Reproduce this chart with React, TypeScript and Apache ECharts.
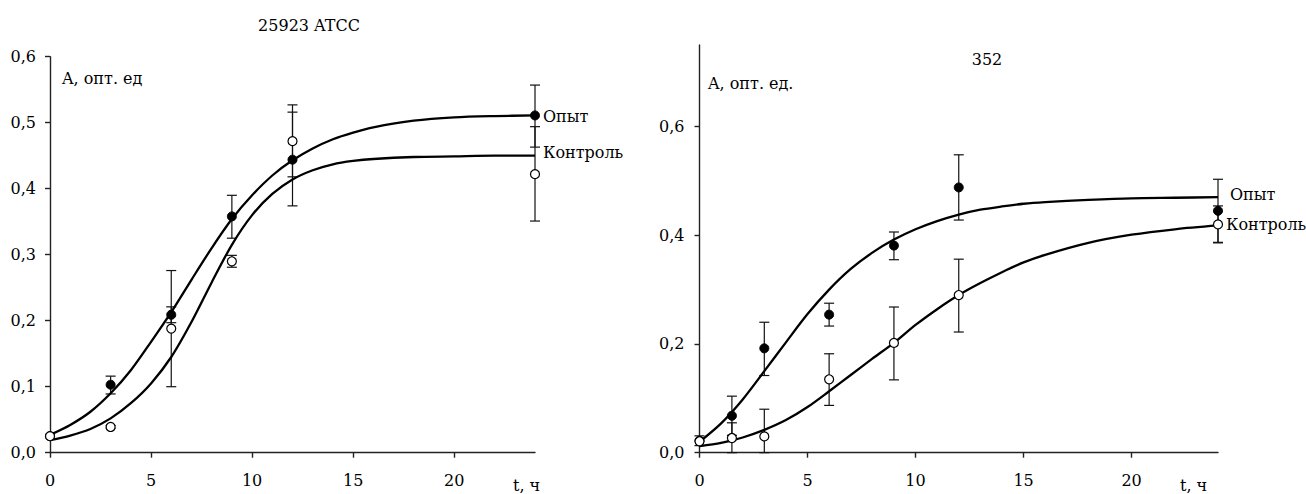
import React, { useEffect, useRef } from 'react';
import * as echarts from 'echarts';

const FONT = 'DejaVu Serif';
const FS = 16;

// ---- Titles / labels
const leftTitle = '25923 ATCC';
const rightTitle = '352';
const leftYName = 'A, опт. ед';
const rightYName = 'A, опт. ед.';
const xName = 't, ч';
const seriesNames = ['Опыт', 'Контроль'];

// ---- Tick values
const xTicks = [0, 5, 10, 15, 20];
const leftYTicks = [0, 0.1, 0.2, 0.3, 0.4, 0.5, 0.6];
const rightYTicks = [0, 0.2, 0.4, 0.6];

// ---- Left chart (25923 ATCC) measured points
const leftX = [0, 3, 6, 9, 12, 24];
const leftOpytY = [0.025, 0.103, 0.209, 0.358, 0.444, 0.511];
const leftOpytLow = [0.025, 0.089, 0.197, 0.325, 0.374, 0.463];
const leftOpytHigh = [0.025, 0.116, 0.221, 0.39, 0.516, 0.557];
const leftKontrY = [0.025, 0.039, 0.188, 0.29, 0.472, 0.422];
const leftKontrLow = [0.025, 0.037, 0.1, 0.281, 0.418, 0.351];
const leftKontrHigh = [0.025, 0.041, 0.276, 0.299, 0.527, 0.494];

// ---- Left chart fitted curves
const leftCurveX = [0, 1, 2, 3, 4, 5, 6, 7, 8, 9, 10, 11, 12, 13, 14, 15, 16, 18, 20, 22, 24];
const leftOpytCurve = [0.027, 0.042, 0.062, 0.09, 0.125, 0.168, 0.213, 0.262, 0.31, 0.354, 0.39, 0.42, 0.443, 0.461, 0.475, 0.485, 0.493, 0.503, 0.508, 0.51, 0.511];
const leftKontrCurve = [0.019, 0.026, 0.036, 0.052, 0.075, 0.105, 0.145, 0.198, 0.258, 0.315, 0.36, 0.392, 0.414, 0.428, 0.437, 0.442, 0.445, 0.448, 0.449, 0.45, 0.45];

// ---- Right chart (352) measured points
const rightX = [0, 1.5, 3, 6, 9, 12, 24];
const rightOpytY = [0.022, 0.068, 0.192, 0.254, 0.381, 0.488, 0.445];
const rightOpytLow = [0.013, 0.032, 0.142, 0.233, 0.355, 0.428, 0.387];
const rightOpytHigh = [0.031, 0.104, 0.24, 0.275, 0.406, 0.548, 0.503];
const rightKontrY = [0.021, 0.027, 0.03, 0.135, 0.202, 0.29, 0.42];
const rightKontrLow = [0.021, 0, 0, 0.087, 0.134, 0.222, 0.386];
const rightKontrHigh = [0.021, 0.055, 0.08, 0.182, 0.268, 0.356, 0.454];

// ---- Right chart fitted curves
const rightCurveX = [0, 1, 2, 3, 4, 5, 6, 7, 8, 9, 10, 11, 12, 13, 14, 15, 16, 18, 20, 22, 24];
const rightOpytCurve = [0.02, 0.054, 0.098, 0.15, 0.203, 0.255, 0.3, 0.338, 0.368, 0.392, 0.411, 0.426, 0.438, 0.447, 0.453, 0.458, 0.461, 0.465, 0.468, 0.469, 0.47];
const rightKontrCurve = [0.012, 0.018, 0.028, 0.042, 0.06, 0.084, 0.113, 0.143, 0.173, 0.202, 0.235, 0.264, 0.29, 0.312, 0.332, 0.35, 0.364, 0.386, 0.401, 0.411, 0.418];

const comma = (v: number) => v.toFixed(1).replace('.', ',');

const errRender = (params: any, api: any) => {
  const x = api.value(0);
  const lo = api.value(1);
  const hi = api.value(2);
  if (hi - lo < 1e-6) return null;
  const top = api.coord([x, hi]);
  const bot = api.coord([x, lo]);
  const w = 5;
  const style = { stroke: '#111', lineWidth: 1.2 };
  return {
    type: 'group',
    children: [
      { type: 'line', shape: { x1: top[0], y1: top[1], x2: bot[0], y2: bot[1] }, style },
      { type: 'line', shape: { x1: top[0] - w, y1: top[1], x2: top[0] + w, y2: top[1] }, style },
      { type: 'line', shape: { x1: bot[0] - w, y1: bot[1], x2: bot[0] + w, y2: bot[1] }, style },
    ],
  };
};

const axisLineStyle = { color: '#222', width: 1.4 };
const labelStyle = { color: '#000', fontSize: FS, fontFamily: FONT };

function makeXAxis(gridIndex: number) {
  return {
    type: 'value',
    gridIndex,
    min: 0,
    max: 24,
    axisLine: { show: true, onZero: false, lineStyle: axisLineStyle },
    axisTick: { show: true, length: 5, lineStyle: axisLineStyle, customValues: xTicks },
    axisLabel: { ...labelStyle, margin: 20, customValues: xTicks, formatter: (v: number) => String(v) },
    splitLine: { show: false },
  };
}

function makeYAxis(gridIndex: number, max: number, ticks: number[], margin: number) {
  return {
    type: 'value',
    gridIndex,
    min: 0,
    max,
    axisLine: { show: true, onZero: false, lineStyle: axisLineStyle },
    axisTick: { show: true, length: 5, lineStyle: axisLineStyle, customValues: ticks },
    axisLabel: { ...labelStyle, margin, customValues: ticks, formatter: (v: number) => comma(v) },
    splitLine: { show: false },
  };
}

function curveSeries(idx: number, xs: number[], ys: number[], name: string, offset: number[]) {
  return {
    type: 'line',
    name,
    xAxisIndex: idx,
    yAxisIndex: idx,
    data: xs.map((x, i) => [x, ys[i]]),
    smooth: 0.3,
    showSymbol: false,
    symbol: 'none',
    lineStyle: { color: '#000', width: 2.3 },
    z: 3,
    silent: true,
    endLabel: {
      show: true,
      formatter: name,
      distance: 8,
      offset,
      ...labelStyle,
    },
  };
}

function pointSeries(idx: number, xs: number[], ys: number[], filled: boolean, z: number) {
  return {
    type: 'scatter',
    xAxisIndex: idx,
    yAxisIndex: idx,
    data: xs.map((x, i) => [x, ys[i]]),
    symbol: 'circle',
    symbolSize: 9,
    itemStyle: filled
      ? { color: '#000', borderColor: '#000', borderWidth: 1, opacity: 1 }
      : { color: '#fff', borderColor: '#000', borderWidth: 1.2, opacity: 1 },
    z,
    silent: true,
  };
}

function errSeries(idx: number, xs: number[], lo: number[], hi: number[]) {
  return {
    type: 'custom',
    xAxisIndex: idx,
    yAxisIndex: idx,
    renderItem: errRender,
    data: xs.map((x, i) => [x, lo[i], hi[i]]),
    encode: { x: 0, y: [1, 2] },
    z: 2,
    silent: true,
  };
}

const textEl = (text: string, x: number, y: number, align: string) => ({
  type: 'text',
  x,
  y,
  style: {
    text,
    fill: '#000',
    fontSize: FS,
    fontFamily: FONT,
    textAlign: align,
    textVerticalAlign: 'middle',
  },
});

export default function App() {
  const ref = useRef<HTMLDivElement>(null);
  useEffect(() => {
    if (!ref.current) return;
    const chart = echarts.init(ref.current, null, { renderer: 'svg' });
    chart.setOption({
      animation: false,
      backgroundColor: '#fff',
      textStyle: { fontFamily: FONT },
      grid: [
        { left: 50, top: 56.7, width: 485, height: 396 },
        { left: 699.5, top: 45, width: 518.5, height: 407.7 },
      ],
      xAxis: [makeXAxis(0), makeXAxis(1)],
      yAxis: [makeYAxis(0, 0.6, leftYTicks, 14), makeYAxis(1, 0.75, rightYTicks, 15)],
      graphic: [
        textEl(leftTitle, 309, 25, 'center'),
        textEl(rightTitle, 987, 59, 'center'),
        textEl(leftYName, 62, 78, 'left'),
        textEl(rightYName, 708, 83, 'left'),
        textEl(xName, 513, 485, 'left'),
        textEl(xName, 1180, 485, 'left'),
      ],
      series: [
        errSeries(0, leftX, leftOpytLow, leftOpytHigh),
        errSeries(0, leftX, leftKontrLow, leftKontrHigh),
        curveSeries(0, leftCurveX, leftOpytCurve, seriesNames[0], [0, 1]),
        curveSeries(0, leftCurveX, leftKontrCurve, seriesNames[1], [0, -3]),
        pointSeries(0, leftX, leftOpytY, true, 5),
        pointSeries(0, leftX, leftKontrY, false, 6),

        errSeries(1, rightX, rightOpytLow, rightOpytHigh),
        errSeries(1, rightX, rightKontrLow, rightKontrHigh),
        curveSeries(1, rightCurveX, rightOpytCurve, seriesNames[0], [4, -3]),
        curveSeries(1, rightCurveX, rightKontrCurve, seriesNames[1], [0, -1]),
        pointSeries(1, rightX, rightOpytY, true, 5),
        pointSeries(1, rightX, rightKontrY, false, 6),
      ],
    });
    return () => chart.dispose();
  }, []);
  return (
    <div
      ref={ref}
      style={{ position: 'fixed', left: 0, top: 0, width: 1306, height: 494, background: '#fff' }}
    />
  );
}
